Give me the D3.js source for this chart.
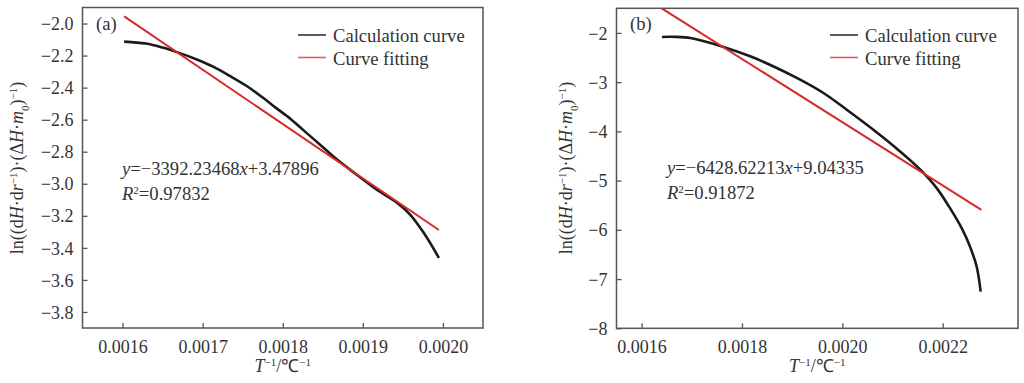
<!DOCTYPE html>
<html><head><meta charset="utf-8">
<script src="https://cdn.jsdelivr.net/npm/d3@7"></script>
<style>
html,body{margin:0;padding:0;background:#fff;}
svg{display:block;font-family:"Liberation Serif","Times New Roman",serif;}
</style></head>
<body>
<svg id="chart" width="1024" height="383"></svg>
<script>
// ---- Data ----
const legendLabels = ["Calculation curve", "Curve fitting"];

// Panel (a)
const aCalcX = [0.001602, 0.001629, 0.00165, 0.001667, 0.001692, 0.001713, 0.001734, 0.001755, 0.001775, 0.001792, 0.001809, 0.001825, 0.001847, 0.001867, 0.001892, 0.001917, 0.001943, 0.001959, 0.001976, 0.001995];
const aCalcY = [-2.113, -2.125, -2.150, -2.177, -2.223, -2.269, -2.327, -2.390, -2.462, -2.528, -2.592, -2.662, -2.758, -2.846, -2.942, -3.036, -3.119, -3.192, -3.306, -3.463];
const aFitX = [0.001602, 0.001995];
const aFitY = [-1.9553, -3.2886];
const aXTicks = [0.0016, 0.0017, 0.0018, 0.0019, 0.0020];
const aYTicks = [-2.0, -2.2, -2.4, -2.6, -2.8, -3.0, -3.2, -3.4, -3.6, -3.8];
const aEquation = ["−3392.23468", "+3.47896"];
const aR2 = "0.97832";

// Panel (b)
const bCalcX = [0.0016405, 0.0016555, 0.0016704, 0.001697, 0.0017169, 0.0017633, 0.0018164, 0.0018695, 0.0019159, 0.0019624, 0.0020088, 0.0020619, 0.002115, 0.0021548, 0.002188, 0.0022145, 0.0022378, 0.0022543, 0.0022676, 0.0022756];
const bCalcY = [-2.082, -2.077, -2.081, -2.105, -2.150, -2.285, -2.475, -2.712, -2.950, -3.221, -3.560, -3.967, -4.407, -4.773, -5.153, -5.560, -5.966, -6.339, -6.746, -7.255];
const bFitX = [0.00164, 0.002277];
const bFitY = [-1.4996, -5.5947];
const bXTicks = [0.0016, 0.0018, 0.0020, 0.0022];
const bYTicks = [-2, -3, -4, -5, -6, -7, -8];
const bEquation = ["−6428.62213", "+9.04335"];
const bR2 = "0.91872";

// ---- Drawing ----
const svg = d3.select("#chart");
const FS = 18;
const FS2 = 18.6;

function drawPanel(o) {
  const x = d3.scaleLinear().domain(o.xDomain).range([o.left, o.right]);
  const y = d3.scaleLinear().domain(o.yDomain).range([o.bottom, o.top]);
  const g = svg.append("g");
  const clipId = "clip" + o.tag;
  svg.append("clipPath").attr("id", clipId).append("rect")
    .attr("x", o.left).attr("y", o.top).attr("width", o.right - o.left).attr("height", o.bottom - o.top);

  // axes (ticks inward)
  const xAxis = d3.axisBottom(x).tickValues(o.xTicks).tickSize(-5).tickPadding(9).tickFormat(d => d.toFixed(4));
  const yAxis = d3.axisLeft(y).tickValues(o.yTicks).tickSize(-5).tickPadding(9).tickFormat(d => d3.format(o.yFmt)(d).replace("-", "−"));
  const gx = g.append("g").attr("transform", `translate(0,${o.bottom})`).call(xAxis);
  const gy = g.append("g").attr("transform", `translate(${o.left},0)`).call(yAxis);
  [gx, gy].forEach(a => {
    a.select(".domain").remove();
    a.selectAll(".tick line").attr("stroke", "#555").attr("stroke-width", 1.3);
    a.selectAll(".tick text").attr("fill", "#333").style("font-size", FS + "px").style("font-family", "Liberation Serif");
  });
  gx.selectAll(".tick text").attr("dy", "0.9em");
  gy.selectAll(".tick text").attr("dy", "0.34em");

  // frame
  g.append("rect").attr("x", o.left).attr("y", o.top).attr("width", o.right - o.left).attr("height", o.bottom - o.top)
    .attr("fill", "none").attr("stroke", "#555").attr("stroke-width", 1.5);

  const calc = o.calcX.map((v, i) => [v, o.calcY[i]]);
  const fit = o.fitX.map((v, i) => [v, o.fitY[i]]);
  const plot = g.append("g").attr("clip-path", `url(#${clipId})`);
  plot.append("path").datum(calc)
    .attr("d", d3.line().x(d => x(d[0])).y(d => y(d[1])).curve(d3.curveCatmullRom.alpha(0.5)))
    .attr("fill", "none").attr("stroke", "#1a1a1a").attr("stroke-width", 2.6).attr("stroke-linejoin", "round");
  plot.append("path").datum(fit).attr("d", d3.line().x(d => x(d[0])).y(d => y(d[1]))).attr("fill", "none")
    .attr("stroke", "#d42a2a").attr("stroke-width", 2);

  // panel tag
  g.append("text").attr("x", o.tagX).attr("y", 30).style("font-size", FS2 + "px").attr("fill", "#333").text(`(${o.tag})`);

  // legend
  const legColors = ["#333", "#e05a5a"];
  legendLabels.forEach((lab, i) => {
    const ly = 35 + i * 22.5;
    g.append("line").attr("x1", o.legX).attr("x2", o.legX + 28).attr("y1", ly).attr("y2", ly)
      .attr("stroke", legColors[i]).attr("stroke-width", 1.6);
    g.append("text").attr("x", o.legX + 35).attr("y", ly + 7).style("font-size", FS2 + "px").attr("fill", "#333").text(lab);
  });

  // equation
  const eq = g.append("text").attr("x", o.eqX).attr("y", o.eqY).style("font-size", FS2 + "px").attr("fill", "#333");
  eq.append("tspan").style("font-style", "italic").text("y");
  eq.append("tspan").text("=" + o.eq[0]);
  eq.append("tspan").style("font-style", "italic").text("x");
  eq.append("tspan").text(o.eq[1]);
  const r2 = g.append("text").attr("x", o.eqX).attr("y", o.eqY + 25).style("font-size", FS2 + "px").attr("fill", "#333");
  r2.append("tspan").style("font-style", "italic").text("R");
  r2.append("tspan").attr("baseline-shift", "super").style("font-size", "11px").text("2");
  r2.append("tspan").text("=" + o.r2);

  // x label
  const xl = g.append("text").attr("x", (o.left + o.right) / 2).attr("y", 372).attr("text-anchor", "middle")
    .style("font-size", FS + "px").attr("fill", "#333");
  xl.append("tspan").style("font-style", "italic").text("T");
  xl.append("tspan").attr("baseline-shift", "super").style("font-size", "11px").text("−1");
  xl.append("tspan").text("/℃");
  xl.append("tspan").attr("baseline-shift", "super").style("font-size", "11px").text("−1");

  // y label
  const yl = g.append("text").attr("transform", `translate(${o.ylX},168) rotate(-90)`).attr("text-anchor", "middle")
    .style("font-size", FS + "px").attr("fill", "#333");
  const parts = [["ln((d", 0], ["H", 1], ["·d", 0], ["r", 1], ["−1", 2], [")·(Δ", 0], ["H", 1], ["·", 0], ["m", 1], ["0", 3], [")", 0], ["−1", 2], [")", 0]];
  parts.forEach(([t, k]) => {
    const ts = yl.append("tspan").text(t);
    if (k === 1) ts.style("font-style", "italic");
    if (k === 2) ts.attr("baseline-shift", "super").style("font-size", "11px");
    if (k === 3) ts.attr("baseline-shift", "sub").style("font-size", "11px");
  });
}

drawPanel({
  tag: "a", left: 82.5, right: 483, top: 7.5, bottom: 328,
  xDomain: [0.00155, 0.00205], yDomain: [-3.9, -1.9],
  xTicks: aXTicks, yTicks: aYTicks, yFmt: ".1f",
  calcX: aCalcX, calcY: aCalcY, fitX: aFitX, fitY: aFitY,
  tagX: 96, legX: 298, eqX: 122, eqY: 175, eq: aEquation, r2: aR2, ylX: 23
});
drawPanel({
  tag: "b", left: 616.5, right: 1018, top: 8.3, bottom: 328.3,
  xDomain: [0.00155, 0.00235], yDomain: [-8, -1.5],
  xTicks: bXTicks, yTicks: bYTicks, yFmt: "d",
  calcX: bCalcX, calcY: bCalcY, fitX: bFitX, fitY: bFitY,
  tagX: 630, legX: 830, eqX: 667, eqY: 174, eq: bEquation, r2: bR2, ylX: 572
});
</script>
</body></html>
